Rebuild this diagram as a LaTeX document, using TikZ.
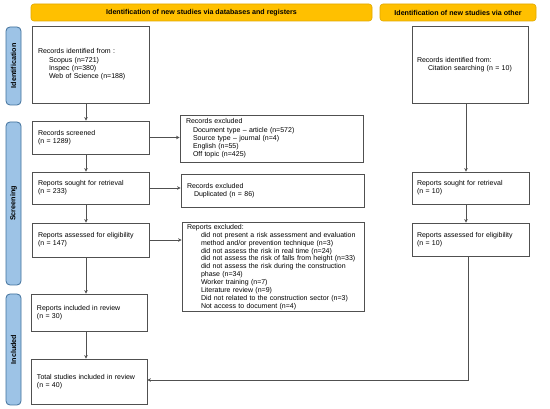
\documentclass[tikz,border=0pt]{standalone}
\usepackage{fontspec}
\setmainfont{Liberation Sans}
\usetikzlibrary{arrows.meta}
\definecolor{hdrY}{HTML}{FFC000}
\definecolor{hdrYb}{HTML}{E0A800}
\definecolor{barB}{HTML}{9DC3E6}
\definecolor{barBb}{HTML}{41719C}
\definecolor{lineG}{HTML}{505050}
\tikzset{
  box/.style={draw=lineG, line width=0.8pt, fill=white, inner xsep=6pt, inner ysep=2pt, align=left,
    font=\fontsize{7}{8.3}\selectfont},
  hdr/.style={draw=hdrYb, fill=hdrY, rounded corners=3pt, line width=0.6pt,
    font=\fontsize{7.1}{8}\selectfont\bfseries},
  bar/.style={draw=barBb, fill=barB, rounded corners=4pt, line width=0.8pt, minimum width=15pt},
  barlab/.style={font=\fontsize{7.2}{8}\selectfont\bfseries, rotate=90},
  arr/.style={draw=lineG, line width=0.8pt, -{Stealth[length=3.5pt,width=3.5pt]}},
  ln/.style={draw=lineG, line width=0.8pt}
}
\newcommand\ind{\hspace*{11pt}}
\begin{document}
\begin{tikzpicture}[x=1pt,y=1pt]
\useasboundingbox[fill=white] (0,0) rectangle (550,-409);
% headers
\node[hdr, minimum width=341pt, minimum height=17pt] (h1) at (201.5,-12.5) {Identification of new studies via databases and registers};
\node[hdr, minimum width=156pt, minimum height=17pt] (h2) at (458,-12.5) {Identification of new studies via other};
% side bars
\node[bar, minimum height=78pt] (b1) at (13.5,-66) {};
\node[barlab] at (b1) {Identification};
\node[bar, minimum height=163pt] (b2) at (13.5,-203.5) {};
\node[barlab] at (b2) {Screening};
\node[bar, minimum height=111pt] (b3) at (13.5,-349.5) {};
\node[barlab] at (b3) {Included};
% left column
\node[box, minimum width=117pt, minimum height=77pt, text width=105pt] (ident) at (90.5,-64.5)
 {Records identified from :\\\ind Scopus (n=721)\\\ind Inspec (n=380)\\\ind Web of Science (n=188)};
\node[box, minimum width=117pt, minimum height=33pt, text width=105pt] (scr) at (90.5,-137.5)
 {Records screened\\(n = 1289)};
\node[box, minimum width=117pt, minimum height=32pt, text width=105pt] (sought) at (90.5,-188)
 {Reports sought for retrieval\\(n = 233)};
\node[box, minimum width=117pt, minimum height=34pt, text width=105pt] (assess) at (90.5,-240)
 {Reports assessed for eligibility\\(n = 147)};
\node[box, minimum width=116pt, minimum height=37pt, text width=104pt] (incl) at (89,-312.5)
 {Reports included in review\\(n = 30)};
\node[box, minimum width=116pt, minimum height=45pt, text width=104pt] (total) at (89,-381.5)
 {Total studies included in review\\(n = 40)};
% exclusions
\node[box, minimum width=183pt, minimum height=47pt, text width=171pt] (ex1) at (271.5,-138.5)
 {Records excluded\\\hspace*{7pt}Document type -- article (n=572)\\\hspace*{7pt}Source type -- journal (n=4)\\\hspace*{7pt}English (n=55)\\\hspace*{7pt}Off topic (n=425)};
\node[box, minimum width=183pt, minimum height=33pt, text width=171pt] (ex2) at (272.5,-190.5)
 {Records excluded\\\hspace*{7pt}Duplicated (n = 86)};
\node[box, minimum width=182pt, minimum height=88pt, text width=172pt, inner xsep=5pt,
  font=\fontsize{7}{7.9}\selectfont] (ex3) at (273,-267)
 {Reports excluded:\\
 \hspace*{14pt}did not present a risk assessment and evaluation\\
 \hspace*{14pt}method and/or prevention technique (n=3)\\
 \hspace*{14pt}did not assess the risk in real time (n=24)\\
 \hspace*{14pt}did not assess the risk of falls from height (n=33)\\
 \hspace*{14pt}did not assess the risk during the construction\\
 \hspace*{14pt}phase (n=34)\\
 \hspace*{14pt}Worker training (n=7)\\
 \hspace*{14pt}Literature review (n=9)\\
 \hspace*{14pt}Did not related to the construction sector (n=3)\\
 \hspace*{14pt}Not access to document (n=4)};
% right column
\node[box, minimum width=116pt, minimum height=77pt, text width=106pt, inner xsep=5pt] (rident) at (470,-64.5)
 {Records identified from:\\\ind Citation searching (n = 10)\\[8pt]};
\node[box, minimum width=117pt, minimum height=32pt, text width=107pt, inner xsep=5pt] (rsought) at (470.5,-188)
 {Reports sought for retrieval\\(n = 10)};
\node[box, minimum width=117pt, minimum height=33pt, text width=107pt, inner xsep=5pt] (rassess) at (470.5,-239.5)
 {Reports assessed for eligibility\\(n = 10)};
% column coordinates
\coordinate (cl) at (86,0);
\coordinate (cr) at (466,0);
% connectors
\draw[arr] (ident.south -| cl) -- (scr.north -| cl);
\draw[arr] (scr.south -| cl) -- (sought.north -| cl);
\draw[arr] (sought.south -| cl) -- (assess.north -| cl);
\draw[arr] (assess.south -| cl) -- (incl.north -| cl);
\draw[arr] (incl.south -| cl) -- (total.north -| cl);
\draw[arr] (scr.east) -- (scr.east -| ex1.west);
\draw[arr] (sought.east) -- (sought.east -| ex2.west);
\draw[arr] (assess.east) -- (assess.east -| ex3.west);
\draw[arr] (rident.south -| cr) -- (rsought.north -| cr);
\draw[arr] (rsought.south -| cr) -- (rassess.north -| cr);
\coordinate (turn) at (468,-380);
\draw[arr] (rassess.south -| turn) -- (turn) -- (turn -| total.east);
\end{tikzpicture}
\end{document}
